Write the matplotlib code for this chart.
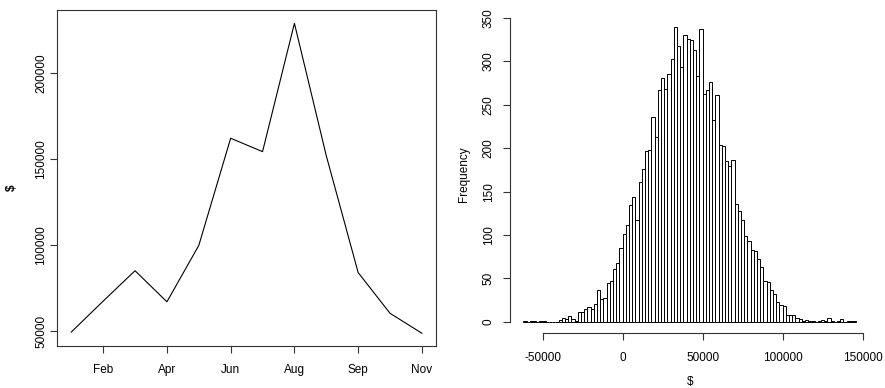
import matplotlib
matplotlib.use("Agg")
import matplotlib.pyplot as plt
import numpy as np

plt.rcParams["font.family"] = ["Liberation Sans", "DejaVu Sans"]
plt.rcParams["font.size"] = 8.5

# monthly series (left panel)
months = ["Jan", "Feb", "Mar", "Apr", "May", "Jun", "Jul", "Aug", "Aug2", "Sep", "Oct", "Nov"]
tick_idx = [1, 3, 5, 7, 9, 11]
tick_lab = ["Feb", "Apr", "Jun", "Aug", "Sep", "Nov"]
dollars = [49400, 67400, 85100, 67000, 99800, 162200, 154400, 229100, 152000, 84000, 60300, 48700]

# histogram counts (right panel), bins of width 2000 from -62000
bin_start = -62000
bin_width = 2000
counts = [1, 0, 1, 1, 0, 1, 1, 0, 0, 0, 0,
          2, 4, 3, 7, 3, 1, 11, 11, 15, 17,
          15, 20, 37, 26, 27, 45, 47, 61, 68, 85,
          101, 111, 135, 144, 117, 161, 176, 197, 198, 236,
          213, 267, 281, 268, 285, 303, 340, 318, 294, 330,
          326, 325, 313, 283, 337, 262, 267, 276, 232, 261,
          204, 203, 185, 180, 186, 136, 128, 117, 99, 93,
          83, 82, 72, 63, 47, 46, 36, 32, 23, 19,
          18, 8, 8, 8, 4, 3, 1, 2, 1, 1,
          0, 1, 2, 1, 4, 1, 0, 1, 3, 0, 1, 1, 1]

fig = plt.figure(figsize=(8.85, 3.88), dpi=100)

# --- left: line plot with full box ---
ax = fig.add_axes([0.0647, 0.1082, 0.4279, 0.866])
x = np.arange(len(dollars))
ax.plot(x, dollars, color="black", linewidth=0.8)
ax.set_xlim(-0.44, len(dollars) - 1 + 0.44)
ax.set_ylim(41270, 236840)
ax.set_xticks(tick_idx)
ax.set_xticklabels(tick_lab)
ax.set_yticks([50000, 100000, 150000, 200000])
ax.set_yticklabels(["50000", "100000", "150000", "200000"], rotation=90, va="center")
ax.tick_params(axis="x", length=5, pad=8, color="#333333")
ax.tick_params(axis="y", length=5, pad=2, color="#333333")
for s in ax.spines.values():
    s.set_color("#333333"); s.set_linewidth(0.8)
ax.set_ylabel("$", fontweight="bold")
ax.yaxis.set_label_coords(-0.104, 0.47)

# --- right: histogram, R style axes ---
ax = fig.add_axes([0.5763, 0.1405, 0.4063, 0.8209])
edges = bin_start + bin_width * np.arange(len(counts))
ax.bar(edges, counts, width=bin_width, align="edge", color="white",
       edgecolor="black", linewidth=0.7)
ax.set_xlim(-70320, 154320)
ax.set_ylim(-13.6, 353.6)
ax.spines["top"].set_visible(False)
ax.spines["right"].set_visible(False)
ax.spines["left"].set_bounds(0, 350)
ax.spines["bottom"].set_bounds(-50000, 150000)
for s in ("left", "bottom"):
    ax.spines[s].set_color("#333333"); ax.spines[s].set_linewidth(0.8)
ax.set_xticks([-50000, 0, 50000, 100000, 150000])
ax.set_xticklabels(["-50000", "0", "50000", "100000", "150000"])
ax.set_yticks(range(0, 351, 50))
ax.set_yticklabels([str(v) for v in range(0, 351, 50)], rotation=90, va="center")
ax.tick_params(axis="x", length=5, pad=8, color="#333333")
ax.tick_params(axis="y", length=5, pad=6, color="#333333")
ax.set_xlabel("$")
ax.set_ylabel("Frequency")
ax.xaxis.set_label_coords(0.5, -0.133)
ax.yaxis.set_label_coords(-0.111, 0.5)

plt.savefig("out.png", dpi=100)
plt.close()
